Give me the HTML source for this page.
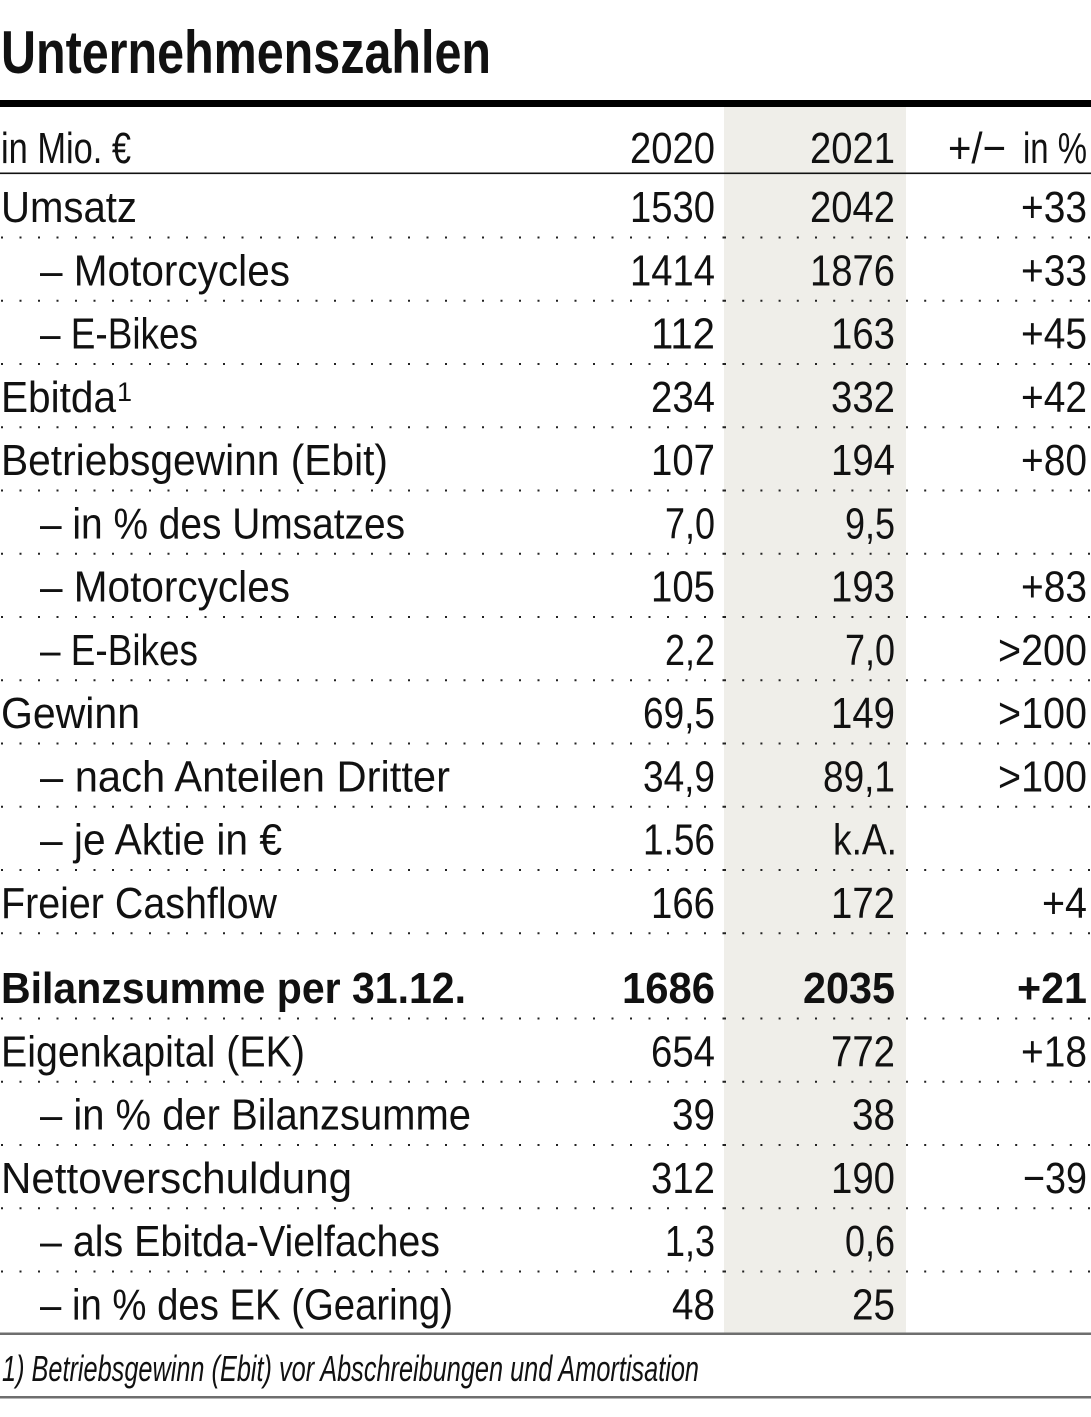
<!DOCTYPE html>
<html><head><meta charset="utf-8"><style>
html,body{margin:0;padding:0;background:#fff;}
svg{display:block;}
text{font-family:"Liberation Sans",sans-serif;fill:#111;}
</style></head><body>
<svg width="1091" height="1417" viewBox="0 0 1091 1417" xmlns="http://www.w3.org/2000/svg">
<rect x="0" y="0" width="1091" height="1417" fill="#fff"/>
<!-- shaded 2021 column -->
<rect x="724" y="107" width="182" height="1226" fill="#efeee9"/>
<!-- title -->
<text x="1" y="73" font-size="60" font-weight="bold" textLength="490" lengthAdjust="spacingAndGlyphs">Unternehmenszahlen</text>
<rect x="0" y="100" width="1091" height="7" fill="#000"/>
<!-- header -->
<g font-size="44">
<text x="1" y="163" textLength="130" lengthAdjust="spacingAndGlyphs">in Mio. €</text>
<text x="715" y="163" text-anchor="end" textLength="85" lengthAdjust="spacingAndGlyphs">2020</text>
<text x="895" y="163" text-anchor="end" textLength="85" lengthAdjust="spacingAndGlyphs">2021</text>
<text x="1006" y="163" text-anchor="end" textLength="58" lengthAdjust="spacingAndGlyphs">+/−</text>
<text x="1087" y="163" text-anchor="end" textLength="64" lengthAdjust="spacingAndGlyphs">in %</text>
</g>
<rect x="0" y="172.5" width="1091" height="1.6" fill="#111"/>

<!-- dotted lines -->
<g stroke="#222" stroke-width="2" fill="none">
<g stroke-dasharray="2 16.5">
<line x1="1" y1="237.5" x2="724" y2="237.5"/>
<line x1="1" y1="300.75" x2="724" y2="300.75"/>
<line x1="1" y1="364" x2="724" y2="364"/>
<line x1="1" y1="427.25" x2="724" y2="427.25"/>
<line x1="1" y1="490.5" x2="724" y2="490.5"/>
<line x1="1" y1="553.75" x2="724" y2="553.75"/>
<line x1="1" y1="617" x2="724" y2="617"/>
<line x1="1" y1="680.25" x2="724" y2="680.25"/>
<line x1="1" y1="743.5" x2="724" y2="743.5"/>
<line x1="1" y1="806.75" x2="724" y2="806.75"/>
<line x1="1" y1="870" x2="724" y2="870"/>
<line x1="1" y1="933.25" x2="724" y2="933.25"/>
<line x1="1" y1="1018.5" x2="724" y2="1018.5"/>
<line x1="1" y1="1081.75" x2="724" y2="1081.75"/>
<line x1="1" y1="1145" x2="724" y2="1145"/>
<line x1="1" y1="1208.25" x2="724" y2="1208.25"/>
<line x1="1" y1="1271.5" x2="724" y2="1271.5"/>
</g>
<g stroke-dasharray="2 16.2">
<line x1="724" y1="237.5" x2="1091" y2="237.5"/>
<line x1="724" y1="300.75" x2="1091" y2="300.75"/>
<line x1="724" y1="364" x2="1091" y2="364"/>
<line x1="724" y1="427.25" x2="1091" y2="427.25"/>
<line x1="724" y1="490.5" x2="1091" y2="490.5"/>
<line x1="724" y1="553.75" x2="1091" y2="553.75"/>
<line x1="724" y1="617" x2="1091" y2="617"/>
<line x1="724" y1="680.25" x2="1091" y2="680.25"/>
<line x1="724" y1="743.5" x2="1091" y2="743.5"/>
<line x1="724" y1="806.75" x2="1091" y2="806.75"/>
<line x1="724" y1="870" x2="1091" y2="870"/>
<line x1="724" y1="933.25" x2="1091" y2="933.25"/>
<line x1="724" y1="1018.5" x2="1091" y2="1018.5"/>
<line x1="724" y1="1081.75" x2="1091" y2="1081.75"/>
<line x1="724" y1="1145" x2="1091" y2="1145"/>
<line x1="724" y1="1208.25" x2="1091" y2="1208.25"/>
<line x1="724" y1="1271.5" x2="1091" y2="1271.5"/>
</g>
</g>

<!-- rows -->
<g font-size="44">
<!-- Umsatz -->
<text x="1" y="222" textLength="136" lengthAdjust="spacingAndGlyphs">Umsatz</text>
<text x="715" y="222" text-anchor="end" textLength="85" lengthAdjust="spacingAndGlyphs">1530</text>
<text x="895" y="222" text-anchor="end" textLength="85" lengthAdjust="spacingAndGlyphs">2042</text>
<text x="1087" y="222" text-anchor="end" textLength="66" lengthAdjust="spacingAndGlyphs">+33</text>
<!-- Motorcycles -->
<text x="40" y="285.25" textLength="250" lengthAdjust="spacingAndGlyphs">– Motorcycles</text>
<text x="715" y="285.25" text-anchor="end" textLength="85" lengthAdjust="spacingAndGlyphs">1414</text>
<text x="895" y="285.25" text-anchor="end" textLength="85" lengthAdjust="spacingAndGlyphs">1876</text>
<text x="1087" y="285.25" text-anchor="end" textLength="66" lengthAdjust="spacingAndGlyphs">+33</text>
<!-- E-Bikes -->
<text x="40" y="348.5" textLength="158" lengthAdjust="spacingAndGlyphs">– E-Bikes</text>
<text x="715" y="348.5" text-anchor="end" textLength="64" lengthAdjust="spacingAndGlyphs">112</text>
<text x="895" y="348.5" text-anchor="end" textLength="64" lengthAdjust="spacingAndGlyphs">163</text>
<text x="1087" y="348.5" text-anchor="end" textLength="66" lengthAdjust="spacingAndGlyphs">+45</text>
<!-- Ebitda -->
<text x="1" y="411.75" textLength="115" lengthAdjust="spacingAndGlyphs">Ebitda</text>
<text x="117" y="401" font-size="27">1</text>
<text x="715" y="411.75" text-anchor="end" textLength="64" lengthAdjust="spacingAndGlyphs">234</text>
<text x="895" y="411.75" text-anchor="end" textLength="64" lengthAdjust="spacingAndGlyphs">332</text>
<text x="1087" y="411.75" text-anchor="end" textLength="66" lengthAdjust="spacingAndGlyphs">+42</text>
<!-- Betriebsgewinn -->
<text x="1" y="475" textLength="387" lengthAdjust="spacingAndGlyphs">Betriebsgewinn (Ebit)</text>
<text x="715" y="475" text-anchor="end" textLength="64" lengthAdjust="spacingAndGlyphs">107</text>
<text x="895" y="475" text-anchor="end" textLength="64" lengthAdjust="spacingAndGlyphs">194</text>
<text x="1087" y="475" text-anchor="end" textLength="66" lengthAdjust="spacingAndGlyphs">+80</text>
<!-- in % des Umsatzes -->
<text x="40" y="538.25" textLength="365" lengthAdjust="spacingAndGlyphs">– in % des Umsatzes</text>
<text x="715" y="538.25" text-anchor="end" textLength="50" lengthAdjust="spacingAndGlyphs">7,0</text>
<text x="895" y="538.25" text-anchor="end" textLength="50" lengthAdjust="spacingAndGlyphs">9,5</text>
<!-- Motorcycles -->
<text x="40" y="601.5" textLength="250" lengthAdjust="spacingAndGlyphs">– Motorcycles</text>
<text x="715" y="601.5" text-anchor="end" textLength="64" lengthAdjust="spacingAndGlyphs">105</text>
<text x="895" y="601.5" text-anchor="end" textLength="64" lengthAdjust="spacingAndGlyphs">193</text>
<text x="1087" y="601.5" text-anchor="end" textLength="66" lengthAdjust="spacingAndGlyphs">+83</text>
<!-- E-Bikes -->
<text x="40" y="664.75" textLength="158" lengthAdjust="spacingAndGlyphs">– E-Bikes</text>
<text x="715" y="664.75" text-anchor="end" textLength="50" lengthAdjust="spacingAndGlyphs">2,2</text>
<text x="895" y="664.75" text-anchor="end" textLength="50" lengthAdjust="spacingAndGlyphs">7,0</text>
<text x="1087" y="664.75" text-anchor="end" textLength="89" lengthAdjust="spacingAndGlyphs">&gt;200</text>
<!-- Gewinn -->
<text x="1" y="728" textLength="139" lengthAdjust="spacingAndGlyphs">Gewinn</text>
<text x="715" y="728" text-anchor="end" textLength="72" lengthAdjust="spacingAndGlyphs">69,5</text>
<text x="895" y="728" text-anchor="end" textLength="64" lengthAdjust="spacingAndGlyphs">149</text>
<text x="1087" y="728" text-anchor="end" textLength="89" lengthAdjust="spacingAndGlyphs">&gt;100</text>
<!-- nach Anteilen Dritter -->
<text x="40" y="791.25" textLength="410" lengthAdjust="spacingAndGlyphs">– nach Anteilen Dritter</text>
<text x="715" y="791.25" text-anchor="end" textLength="72" lengthAdjust="spacingAndGlyphs">34,9</text>
<text x="895" y="791.25" text-anchor="end" textLength="72" lengthAdjust="spacingAndGlyphs">89,1</text>
<text x="1087" y="791.25" text-anchor="end" textLength="89" lengthAdjust="spacingAndGlyphs">&gt;100</text>
<!-- je Aktie -->
<text x="40" y="854.5" textLength="242" lengthAdjust="spacingAndGlyphs">– je Aktie in €</text>
<text x="715" y="854.5" text-anchor="end" textLength="72" lengthAdjust="spacingAndGlyphs">1.56</text>
<text x="897" y="854.5" text-anchor="end" textLength="64" lengthAdjust="spacingAndGlyphs">k.A.</text>
<!-- Freier Cashflow -->
<text x="1" y="917.75" textLength="276" lengthAdjust="spacingAndGlyphs">Freier Cashflow</text>
<text x="715" y="917.75" text-anchor="end" textLength="64" lengthAdjust="spacingAndGlyphs">166</text>
<text x="895" y="917.75" text-anchor="end" textLength="64" lengthAdjust="spacingAndGlyphs">172</text>
<text x="1087" y="917.75" text-anchor="end" textLength="45" lengthAdjust="spacingAndGlyphs">+4</text>

<!-- Bilanzsumme (bold) -->
<g font-weight="bold">
<text x="1" y="1003" textLength="465" lengthAdjust="spacingAndGlyphs">Bilanzsumme per 31.12.</text>
<text x="715" y="1003" text-anchor="end" textLength="93" lengthAdjust="spacingAndGlyphs">1686</text>
<text x="895" y="1003" text-anchor="end" textLength="92" lengthAdjust="spacingAndGlyphs">2035</text>
<text x="1087" y="1003" text-anchor="end" textLength="70" lengthAdjust="spacingAndGlyphs">+21</text>
</g>
<!-- Eigenkapital -->
<text x="1" y="1066.25" textLength="304" lengthAdjust="spacingAndGlyphs">Eigenkapital (EK)</text>
<text x="715" y="1066.25" text-anchor="end" textLength="64" lengthAdjust="spacingAndGlyphs">654</text>
<text x="895" y="1066.25" text-anchor="end" textLength="64" lengthAdjust="spacingAndGlyphs">772</text>
<text x="1087" y="1066.25" text-anchor="end" textLength="66" lengthAdjust="spacingAndGlyphs">+18</text>
<!-- in % der Bilanzsumme -->
<text x="40" y="1129.5" textLength="431" lengthAdjust="spacingAndGlyphs">– in % der Bilanzsumme</text>
<text x="715" y="1129.5" text-anchor="end" textLength="43" lengthAdjust="spacingAndGlyphs">39</text>
<text x="895" y="1129.5" text-anchor="end" textLength="43" lengthAdjust="spacingAndGlyphs">38</text>
<!-- Nettoverschuldung -->
<text x="1" y="1192.75" textLength="351" lengthAdjust="spacingAndGlyphs">Nettoverschuldung</text>
<text x="715" y="1192.75" text-anchor="end" textLength="64" lengthAdjust="spacingAndGlyphs">312</text>
<text x="895" y="1192.75" text-anchor="end" textLength="64" lengthAdjust="spacingAndGlyphs">190</text>
<text x="1087" y="1192.75" text-anchor="end" textLength="64" lengthAdjust="spacingAndGlyphs">−39</text>
<!-- als Ebitda-Vielfaches -->
<text x="40" y="1256" textLength="400" lengthAdjust="spacingAndGlyphs">– als Ebitda-Vielfaches</text>
<text x="715" y="1256" text-anchor="end" textLength="50" lengthAdjust="spacingAndGlyphs">1,3</text>
<text x="895" y="1256" text-anchor="end" textLength="50" lengthAdjust="spacingAndGlyphs">0,6</text>
<!-- in % des EK (Gearing) -->
<text x="40" y="1319.25" textLength="413" lengthAdjust="spacingAndGlyphs">– in % des EK (Gearing)</text>
<text x="715" y="1319.25" text-anchor="end" textLength="43" lengthAdjust="spacingAndGlyphs">48</text>
<text x="895" y="1319.25" text-anchor="end" textLength="43" lengthAdjust="spacingAndGlyphs">25</text>
</g>

<!-- bottom rules and footnote -->
<rect x="0" y="1332.5" width="1091" height="2.5" fill="#6e6e6e"/>
<text x="2" y="1381" font-size="36" font-style="italic" textLength="697" lengthAdjust="spacingAndGlyphs">1) Betriebsgewinn (Ebit) vor Abschreibungen und Amortisation</text>
<rect x="0" y="1396" width="1091" height="2.5" fill="#6e6e6e"/>
</svg>
</body></html>
